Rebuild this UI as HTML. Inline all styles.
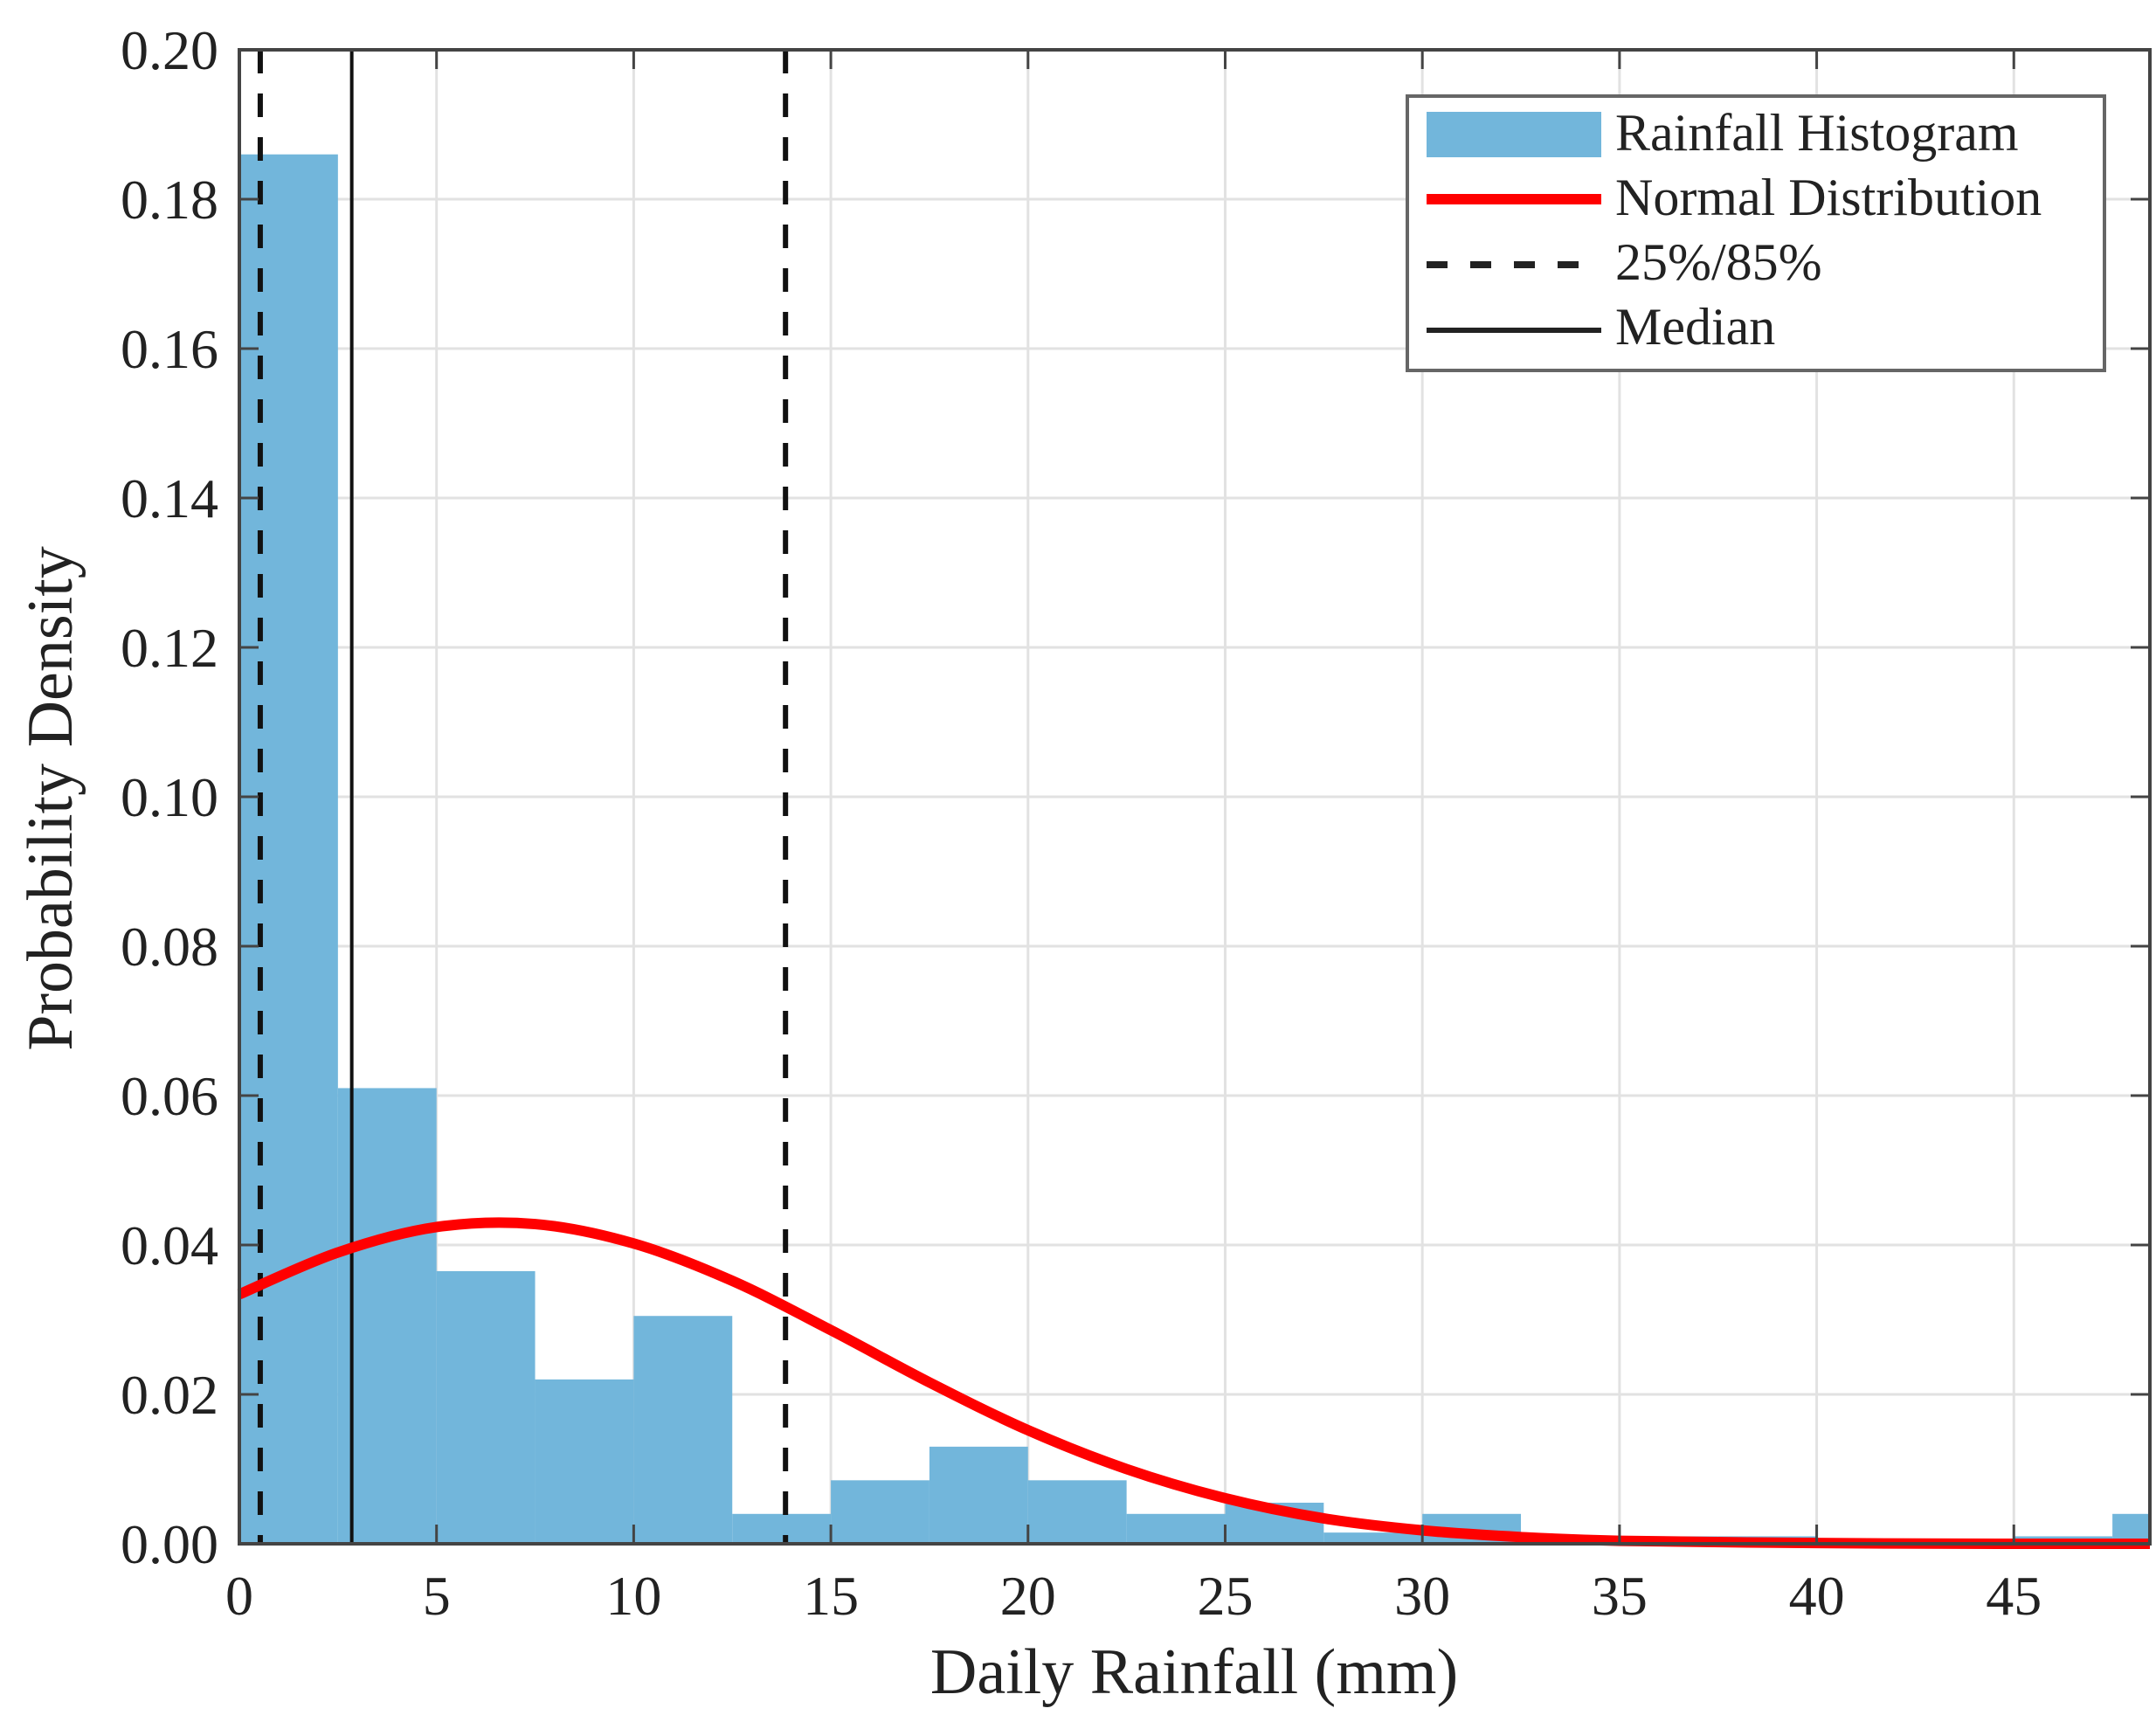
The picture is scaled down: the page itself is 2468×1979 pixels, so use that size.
<!DOCTYPE html>
<html><head><meta charset="utf-8"><style>
html,body{margin:0;padding:0;background:#fff;}
svg{display:block;font-family:"Liberation Serif",serif;}
</style></head><body>
<svg id="chart" width="2468" height="1979" viewBox="0 0 2468 1979" xmlns="http://www.w3.org/2000/svg">
<rect x="0" y="0" width="2468" height="1979" fill="#fff"/>
<g id="grid"></g>
<g id="bars"></g>
<g id="lines"></g>
<g id="axes"></g>
<text x="1367" y="1938" font-size="74" text-anchor="middle" fill="#222">Daily Rainfall (mm)</text>
<text transform="translate(82,914) rotate(-90)" font-size="74" text-anchor="middle" fill="#222">Probability Density</text>
<g>
<rect x="1611" y="110" width="798" height="314" fill="#fff" stroke="#666" stroke-width="4"/>
<rect x="1633" y="128" width="200" height="52" fill="#72b6db"/>
<text x="1849" y="172" font-size="60" fill="#222">Rainfall Histogram</text>
<line x1="1633" y1="228" x2="1833" y2="228" stroke="#ff0000" stroke-width="12"/>
<text x="1849" y="246" font-size="60" fill="#222">Normal Distribution</text>
<line x1="1633" y1="303" x2="1833" y2="303" stroke="#222" stroke-width="8" stroke-dasharray="24,26"/>
<text x="1849" y="320" font-size="60" fill="#222">25%/85%</text>
<line x1="1633" y1="378" x2="1833" y2="378" stroke="#222" stroke-width="6"/>
<text x="1849" y="394" font-size="60" fill="#222">Median</text>
</g>
</svg>
<script>
const binEdgesLeft = [0,2.5,5,7.5,10,12.5,15,17.5,20,22.5,25,27.5,30,32.5,35,37.5,40,42.5,45,47.5];
const binDensity = [0.186,0.061,0.0365,0.022,0.0305,0.004,0.0085,0.013,0.0085,0.004,0.0055,0.0015,0.004,0.0005,0.001,0.001,0.0005,0.0005,0.001,0.004];
const binWidth = 2.5;
const curveX = [0,2.5,5,7.5,10,12.5,15,17.5,20,22.5,25,27.5,30,32.5,35,40,45,48.45];
const curveY = [0.0334,0.039,0.0424,0.0428,0.0402,0.0352,0.0286,0.0216,0.0152,0.010,0.0061,0.0034,0.0018,0.0009,0.0004,0.0001,0,0];
const quantileX = [0.53,13.85];
const medianX = [2.85];
const xTicks = [0,5,10,15,20,25,30,35,40,45];
const yTicks = [0,0.02,0.04,0.06,0.08,0.10,0.12,0.14,0.16,0.18,0.20];
const yTickLabels = ["0.00","0.02","0.04","0.06","0.08","0.10","0.12","0.14","0.16","0.18","0.20"];

const L=274,R=2461,T=57,B=1767,XMAX=48.45,YMAX=0.2;
const sx=v=>L+(v/XMAX)*(R-L);
const sy=v=>B-(v/YMAX)*(B-T);
const NS="http://www.w3.org/2000/svg";
function mk(tag,parent){const e=document.createElementNS(NS,tag);parent.appendChild(e);return e;}
const grid=document.getElementById('grid'),bars=document.getElementById('bars'),lines=document.getElementById('lines'),axes=document.getElementById('axes');

xTicks.forEach(t=>{
 const g=mk('line',grid);
 
 
 g.setAttribute('x1',sx(t));g.setAttribute('x2',sx(t));g.setAttribute('y1',T);g.setAttribute('y2',B);
 g.setAttribute('stroke','#e2e2e2');g.setAttribute('stroke-width','3');
});
yTicks.forEach(t=>{
 const g=mk('line',grid);
 
 
 g.setAttribute('x1',L);g.setAttribute('x2',R);g.setAttribute('y1',sy(t));g.setAttribute('y2',sy(t));
 g.setAttribute('stroke','#e2e2e2');g.setAttribute('stroke-width','3');
});

binEdgesLeft.forEach((x0,i)=>{
 const x1=Math.min(x0+binWidth,XMAX);
 const r=mk('rect',bars);
 
 
 r.setAttribute('x',sx(x0));r.setAttribute('width',sx(x1)-sx(x0));
 r.setAttribute('y',sy(binDensity[i]));r.setAttribute('height',B-sy(binDensity[i]));
 r.setAttribute('fill','#72b6db');
});

quantileX.forEach(q=>{
 const l=mk('line',lines);
 
 
 l.setAttribute('x1',sx(q));l.setAttribute('x2',sx(q));l.setAttribute('y1',T);l.setAttribute('y2',B);
 l.setAttribute('stroke','#111');l.setAttribute('stroke-width','6');l.setAttribute('stroke-dasharray','27,23');
});
medianX.forEach(m=>{
 const l=mk('line',lines);
 
 
 l.setAttribute('x1',sx(m));l.setAttribute('x2',sx(m));l.setAttribute('y1',T);l.setAttribute('y2',B);
 l.setAttribute('stroke','#111');l.setAttribute('stroke-width','4');
});

// smooth curve (Catmull-Rom)
const pts=curveX.map((x,i)=>[sx(x),sy(curveY[i])]);
let d='M'+pts[0][0]+','+pts[0][1];
for(let i=0;i<pts.length-1;i++){
 const p0=pts[Math.max(0,i-1)],p1=pts[i],p2=pts[i+1],p3=pts[Math.min(pts.length-1,i+2)];
 const c1=[p1[0]+(p2[0]-p0[0])/6,p1[1]+(p2[1]-p0[1])/6];
 const c2=[p2[0]-(p3[0]-p1[0])/6,p2[1]-(p3[1]-p1[1])/6];
 d+=' C'+c1[0]+','+c1[1]+' '+c2[0]+','+c2[1]+' '+p2[0]+','+p2[1];
}
const curve=mk('path',lines);


curve.setAttribute('d',d);curve.setAttribute('fill','none');curve.setAttribute('stroke','#ff0000');curve.setAttribute('stroke-width','12');

const frame=mk('rect',axes);


frame.setAttribute('x',L);frame.setAttribute('y',T);frame.setAttribute('width',R-L);frame.setAttribute('height',B-T);
frame.setAttribute('fill','none');frame.setAttribute('stroke','#444');frame.setAttribute('stroke-width','4');

xTicks.forEach(t=>{
 [[B,B-22],[T,T+22]].forEach(([a,b])=>{
  const k=mk('line',axes);
  
  
  k.setAttribute('x1',sx(t));k.setAttribute('x2',sx(t));k.setAttribute('y1',a);k.setAttribute('y2',b);
  k.setAttribute('stroke','#444');k.setAttribute('stroke-width','3');
 });
 const tx=mk('text',axes);
 
 
 tx.setAttribute('x',sx(t));tx.setAttribute('y',1848);tx.setAttribute('text-anchor','middle');
 tx.setAttribute('font-size','64');tx.setAttribute('fill','#222');tx.textContent=t;
});
yTicks.forEach((t,i)=>{
 [[L,L+22],[R,R-22]].forEach(([a,b])=>{
  const k=mk('line',axes);
  
  
  k.setAttribute('x1',a);k.setAttribute('x2',b);k.setAttribute('y1',sy(t));k.setAttribute('y2',sy(t));
  k.setAttribute('stroke','#444');k.setAttribute('stroke-width','3');
 });
 const tx=mk('text',axes);
 
 
 tx.setAttribute('x',250);tx.setAttribute('y',sy(t)+22);tx.setAttribute('text-anchor','end');
 tx.setAttribute('font-size','64');tx.setAttribute('fill','#222');tx.textContent=yTickLabels[i];
});
</script>
</body></html>
